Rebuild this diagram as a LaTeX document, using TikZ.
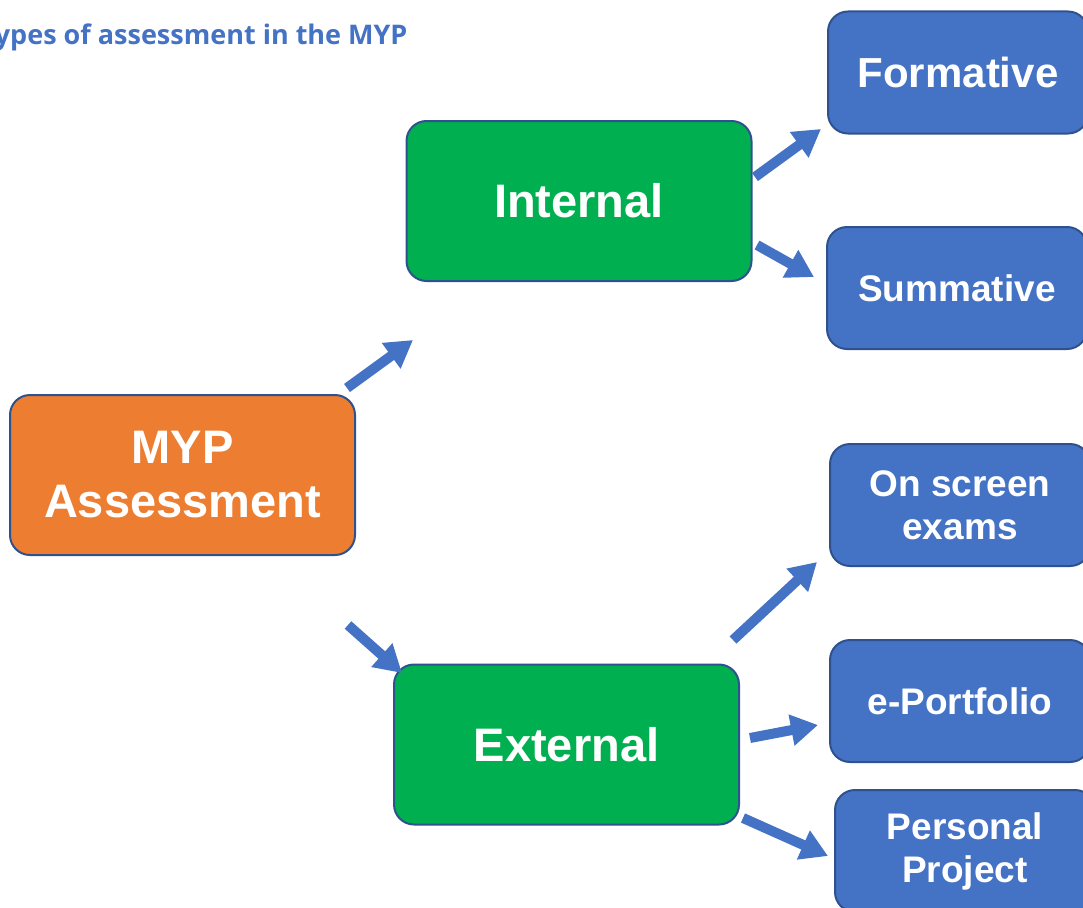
\documentclass[tikz,border=0pt]{standalone}
\usepackage{fontspec}
\setmainfont{Liberation Sans}
\newfontfamily\titlefont{Open Sans}
\usetikzlibrary{arrows.meta}
\definecolor{oblue}{HTML}{4472C4}
\definecolor{ogreen}{HTML}{00B050}
\definecolor{oorange}{HTML}{ED7D31}
\definecolor{oedge}{HTML}{2F528F}
\definecolor{titleblue}{HTML}{4472C4}
\tikzset{
  box/.style={rounded corners=20pt, draw=oedge, line width=2pt, text=white,
    font=\bfseries, align=center, inner sep=0pt},
  bigbox/.style={box, minimum width=345pt, minimum height=160pt,
    font=\bfseries\fontsize{47}{54}\selectfont},
  smallbox/.style={box, minimum width=260pt, minimum height=122pt, fill=oblue,
    font=\bfseries\fontsize{37}{43}\selectfont},
  arr/.style={draw=oblue, line width=10pt, -{Triangle[length=27pt,width=30pt]}},
}
\begin{document}
\begin{tikzpicture}[x=1pt,y=-1pt]
\useasboundingbox (0,0) rectangle (1083,907);
\clip (0,0) rectangle (1083,907);
\fill[white] (0,0) rectangle (1083,907);

\node[anchor=base east, text=titleblue, font=\titlefont\bfseries\fontsize{27}{32}\selectfont] (title) at (411,45) {Types of assessment in the MYP};

\node[bigbox, fill=oorange] (myp) at (182.5,475) {MYP\\Assessment};
\node[bigbox, fill=ogreen] (internal) at (579,201) {Internal};
\node[bigbox, fill=ogreen] (external) at (566.5,744.5) {External};

\node[smallbox, font=\bfseries\fontsize{42}{48}\selectfont] (formative) at (958,72.5) {Formative};
\node[smallbox] (summative) at (957,288) {Summative};
\node[smallbox] (onscreen) at (960,505) {On screen\\exams};
\node[smallbox] (eportfolio) at (960,701) {e-Portfolio};
\node[smallbox] (personal) at (965,851) {Personal\\Project};

\coordinate (a1s) at (347,388); \coordinate (a1e) at (413,340);
\coordinate (a2s) at (348,625); \coordinate (a2e) at (402,673);
\coordinate (a3s) at (755,177); \coordinate (a3e) at (821,129);
\coordinate (a4s) at (757,245); \coordinate (a4e) at (814,277);
\coordinate (a5s) at (733,640); \coordinate (a5e) at (817,562);
\coordinate (a6s) at (750,738); \coordinate (a6e) at (818,725);
\coordinate (a7s) at (743,818); \coordinate (a7e) at (828,856);

\draw[arr] (a1s) -- (a1e);
\draw[arr] (a2s) -- (a2e);
\draw[arr] (a3s) -- (a3e);
\draw[arr] (a4s) -- (a4e);
\draw[arr] (a5s) -- (a5e);
\draw[arr] (a6s) -- (a6e);
\draw[arr] (a7s) -- (a7e);
\end{tikzpicture}
\end{document}
